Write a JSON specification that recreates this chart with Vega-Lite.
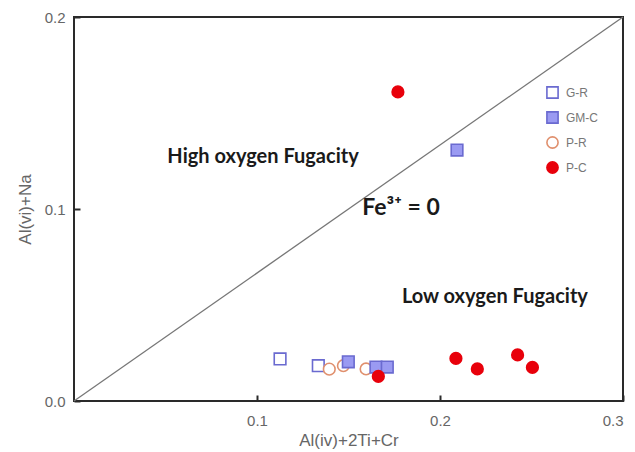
{
  "$schema": "https://vega.github.io/schema/vega-lite/v6.json",
  "autosize": "none",
  "width": 549,
  "height": 384,
  "padding": {"left": 74, "top": 17, "right": 12, "bottom": 51},
  "background": "white",
  "config": {
    "view": {"stroke": "#2a2a2a", "strokeWidth": 2},
    "axis": {"grid": false, "domain": false, "labelFont": "Liberation Sans", "titleFont": "Liberation Sans", "labelColor": "#666666", "titleColor": "#666666", "labelFontSize": 15, "titleFontSize": 17, "titleFontWeight": "normal", "tickColor": "#2a2a2a", "tickWidth": 2},
    "legend": {"title": null, "orient": "none", "legendX": 472, "legendY": 69, "symbolSize": 125, "symbolStrokeWidth": 1.6, "labelFont": "Liberation Sans", "labelFontSize": 12, "labelColor": "#777777", "rowPadding": 6, "labelOffset": 7, "padding": 0}
  },
  "datasets": {
    "pts": [
      {"x": 0.1126, "y": 0.0219, "group": "G-R"},
      {"x": 0.1335, "y": 0.0184, "group": "G-R"},
      {"x": 0.1395, "y": 0.0166, "group": "P-R"},
      {"x": 0.1472, "y": 0.0184, "group": "P-R"},
      {"x": 0.1596, "y": 0.0167, "group": "P-R"},
      {"x": 0.1499, "y": 0.0204, "group": "GM-C"},
      {"x": 0.1650, "y": 0.0177, "group": "GM-C"},
      {"x": 0.1712, "y": 0.0177, "group": "GM-C"},
      {"x": 0.2093, "y": 0.1307, "group": "GM-C"},
      {"x": 0.1663, "y": 0.0128, "group": "P-C"},
      {"x": 0.2087, "y": 0.0222, "group": "P-C"},
      {"x": 0.2204, "y": 0.0167, "group": "P-C"},
      {"x": 0.2424, "y": 0.0240, "group": "P-C"},
      {"x": 0.2505, "y": 0.0175, "group": "P-C"},
      {"x": 0.1770, "y": 0.1610, "group": "P-C"}
    ],
    "line": [
      {"x": 0, "y": 0},
      {"x": 0.3, "y": 0.2}
    ],
    "notes": [
      {"x": 0.1033, "y": 0.1270, "label": "High oxygen Fugacity", "size": 20},
      {"x": 0.2300, "y": 0.0542, "label": "Low oxygen Fugacity", "size": 20},
      {"x": 0.1787, "y": 0.1005, "label": "Fe³⁺ = 0", "size": 23}
    ]
  },
  "layer": [
    {
      "data": {"name": "line"},
      "mark": {"type": "line", "color": "#777777", "strokeWidth": 1.3},
      "encoding": {
        "x": {"field": "x", "type": "quantitative", "scale": {"domain": [0, 0.3], "nice": false},
          "axis": {"values": [0.1, 0.2, 0.3], "format": ".1f", "title": "Al(iv)+2Ti+Cr", "tickSize": -6, "labelPadding": 18, "titlePadding": 4}},
        "y": {"field": "y", "type": "quantitative", "scale": {"domain": [0, 0.2], "nice": false},
          "axis": {"values": [0, 0.1, 0.2], "format": ".1f", "title": "Al(vi)+Na", "tickSize": -6, "labelPadding": 15, "titlePadding": 10}}
      }
    },
    {
      "data": {"name": "pts"},
      "mark": {"type": "point", "size": 135, "strokeWidth": 1.6, "opacity": 1, "fillOpacity": 1},
      "encoding": {
        "x": {"field": "x", "type": "quantitative"},
        "y": {"field": "y", "type": "quantitative"},
        "shape": {"field": "group", "type": "nominal", "scale": {"domain": ["G-R", "GM-C", "P-R", "P-C"], "range": ["square", "square", "circle", "circle"]}},
        "stroke": {"field": "group", "type": "nominal", "scale": {"domain": ["G-R", "GM-C", "P-R", "P-C"], "range": ["#6a6ad0", "#6a6ad0", "#e0906e", "#e8000b"]}},
        "fill": {"field": "group", "type": "nominal", "scale": {"domain": ["G-R", "GM-C", "P-R", "P-C"], "range": ["#ffffff", "#9a9af2", "#ffffff", "#e8000b"]}}
      }
    },
    {
      "data": {"name": "notes"},
      "mark": {"type": "text", "font": "Lato", "fontWeight": "bold", "color": "#1a1a1a", "align": "center", "baseline": "middle"},
      "encoding": {
        "x": {"field": "x", "type": "quantitative"},
        "y": {"field": "y", "type": "quantitative"},
        "text": {"field": "label"},
        "size": {"field": "size", "type": "quantitative", "scale": null}
      }
    }
  ]
}
